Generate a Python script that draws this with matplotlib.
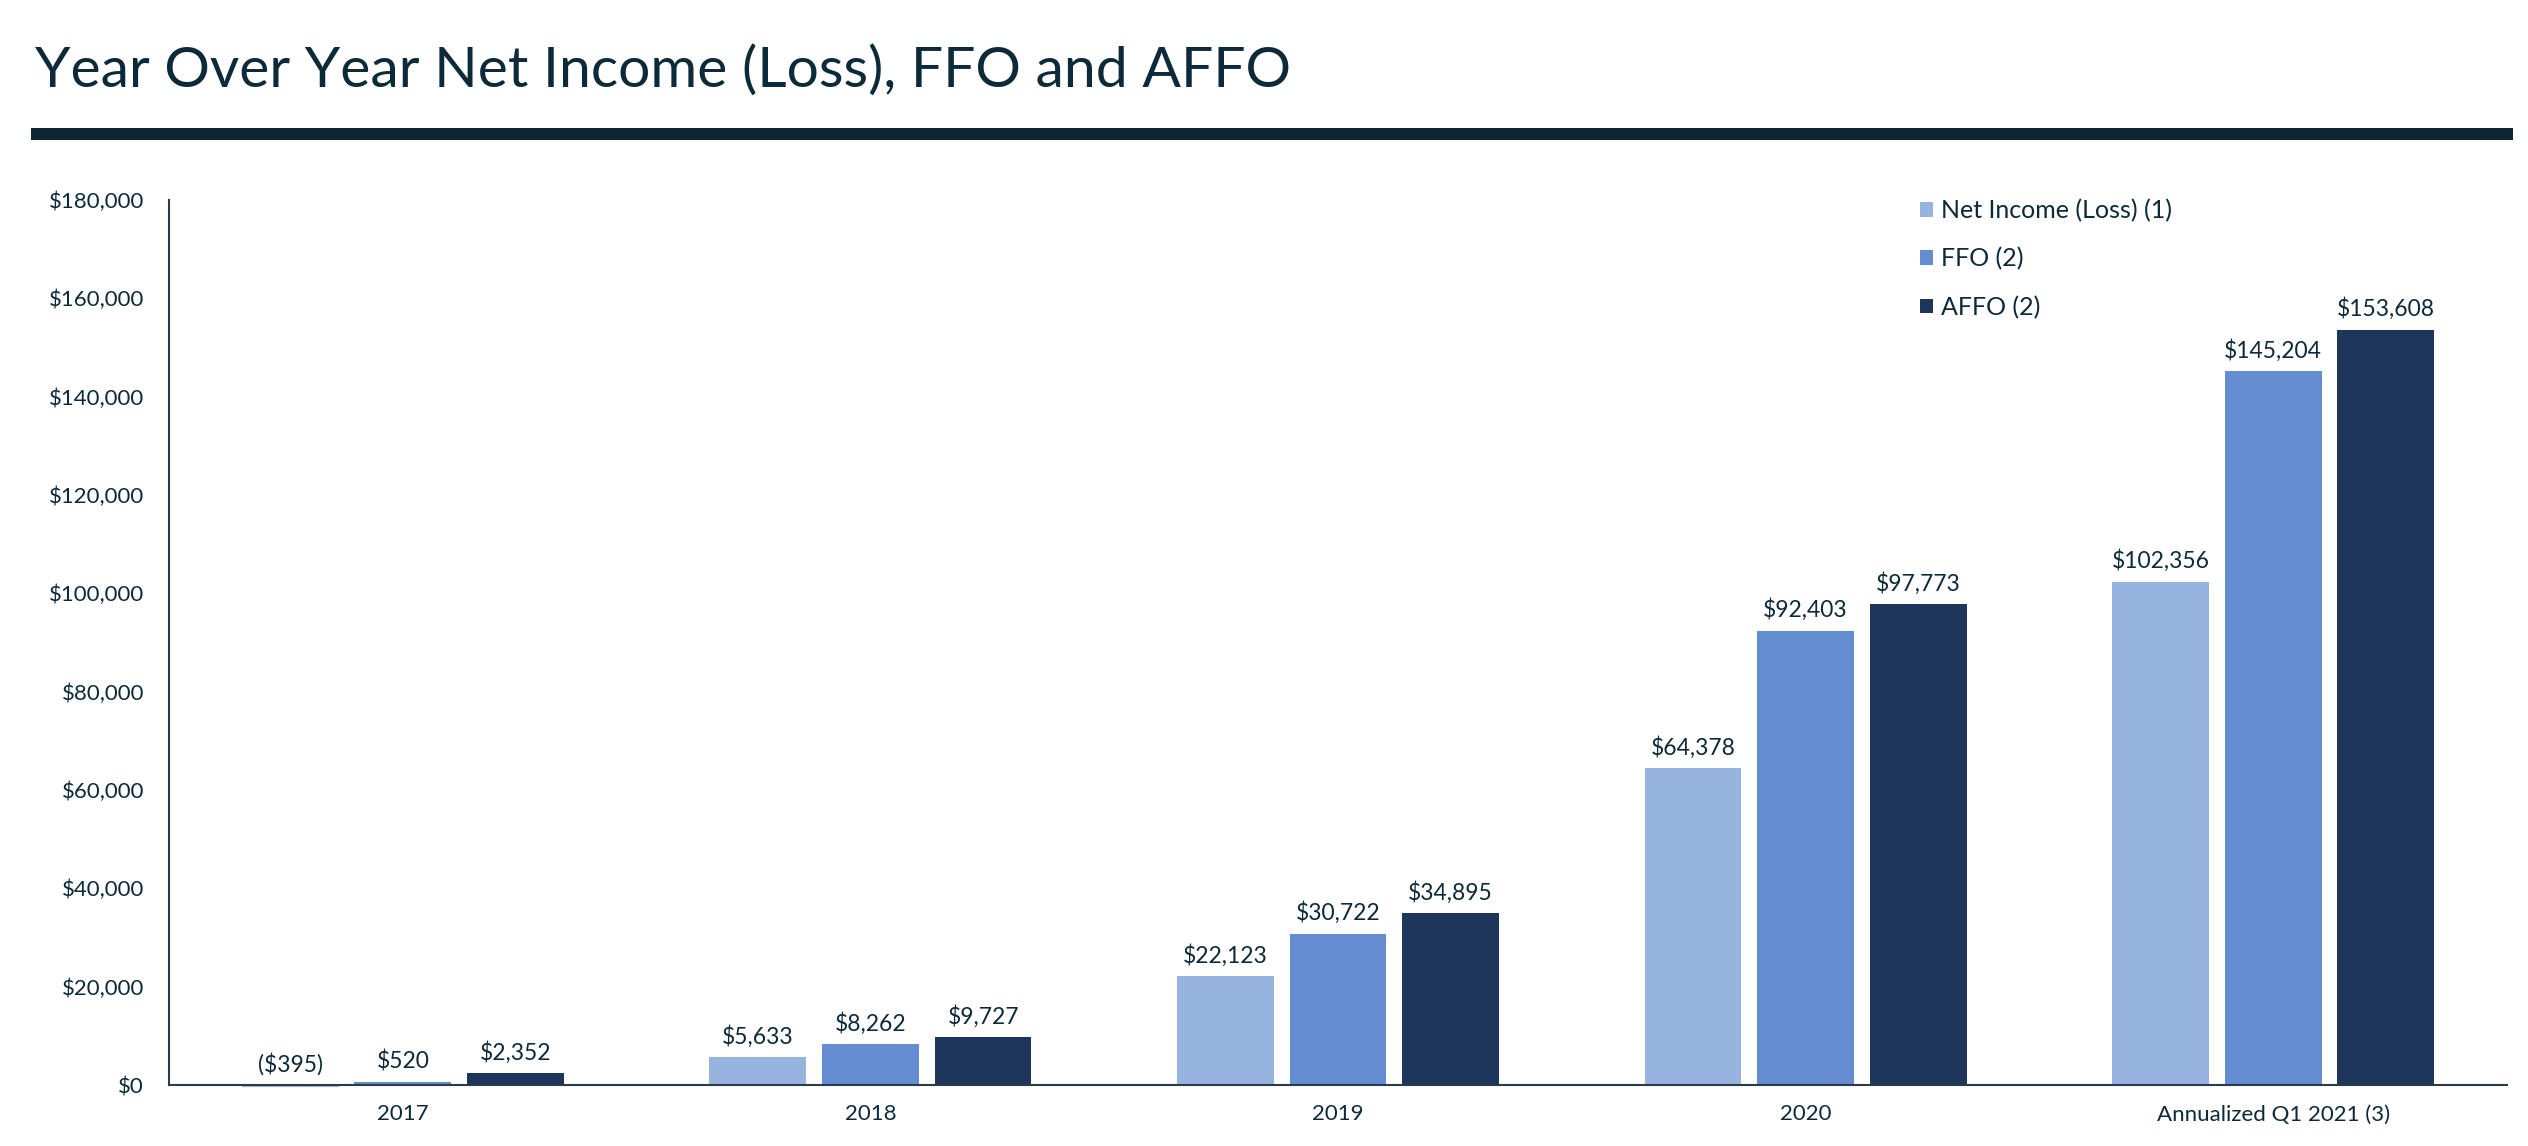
import numpy as np
import matplotlib
matplotlib.use("Agg")
import matplotlib.pyplot as plt
from matplotlib.patches import Rectangle
from matplotlib.ticker import FuncFormatter

categories = ["2017", "2018", "2019", "2020", "Annualized Q1 2021 (3)"]
series_names = ["Net Income (Loss) (1)", "FFO (2)", "AFFO (2)"]
net_income = [-395, 5633, 22123, 64378, 102356]
ffo = [520, 8262, 30722, 92403, 145204]
affo = [2352, 9727, 34895, 97773, 153608]
y_ticks = list(range(0, 180001, 20000))

COLORS = ["#97b3df", "#638dd0", "#1f365c"]
TEXT = "#0d2a3a"
W, H = 2528, 1146

plt.rcParams["font.family"] = ["Lato", "DejaVu Sans"]

fig = plt.figure(figsize=(W / 100, H / 100), dpi=100)
ax = fig.add_axes([169 / W, 1 - 1085 / H, (2507 - 169) / W, (1085 - 200) / H])

# title and the rule under it
fig.text(35 / W, 1 - 87 / H, "Year Over Year Net Income (Loss), FFO and AFFO",
         fontsize=41, color=TEXT, va="baseline", ha="left")
fig.add_artist(Rectangle((31 / W, 1 - 140 / H), (2513 - 31) / W, 12 / H,
                         transform=fig.transFigure, color="#0c2634", lw=0))


def money(v):
    return f"(${-v:,.0f})" if v < 0 else f"${v:,.0f}"


x = np.arange(len(categories))
width = 0.207
step = 0.241
handles = []
for i, (vals, name) in enumerate(zip([net_income, ffo, affo], series_names)):
    pos = x + (i - 1) * step
    bars = ax.bar(pos, vals, width, color=COLORS[i], label=name, clip_on=False, zorder=2)
    handles.append(bars)
    for xp, v in zip(pos, vals):
        ax.annotate(money(v), (xp, max(v, 0)), xytext=(0, 7), textcoords="offset points",
                    ha="center", va="bottom", fontsize=16.5, color=TEXT)

ax.set_xlim(-0.5, len(categories) - 0.5)
ax.set_ylim(0, 180000)
ax.set_yticks(y_ticks)
ax.yaxis.set_major_formatter(FuncFormatter(lambda v, _: money(v)))
ax.set_xticks(x)
ax.set_xticklabels(categories)
ax.tick_params(axis="both", length=0, labelsize=16, labelcolor=TEXT)
ax.tick_params(axis="y", pad=18)
ax.tick_params(axis="x", pad=14)
for s in ["top", "right"]:
    ax.spines[s].set_visible(False)
for s in ["left", "bottom"]:
    ax.spines[s].set_color("#2b3c48")
    ax.spines[s].set_linewidth(1.5)
    ax.spines[s].set_zorder(3)

leg = ax.legend(handles=handles, loc="upper left", bbox_to_anchor=(1920 / W, 1 - 199 / H),
                bbox_transform=fig.transFigure, frameon=False, fontsize=18,
                handlelength=0.52, handleheight=0.52, handletextpad=0.3,
                labelspacing=1.0, borderpad=0, borderaxespad=0)
for t in leg.get_texts():
    t.set_color(TEXT)

fig.savefig("out.png", dpi=100)
